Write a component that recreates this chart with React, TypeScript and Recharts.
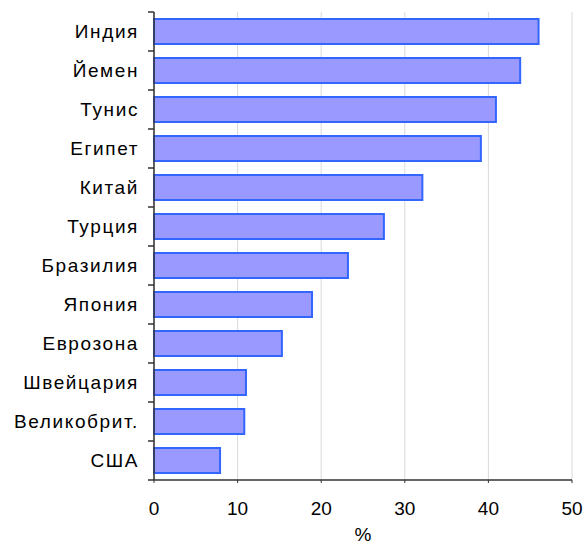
import { BarChart, Bar, XAxis, YAxis, CartesianGrid } from 'recharts';

const countries = [
  'Индия',
  'Йемен',
  'Тунис',
  'Египет',
  'Китай',
  'Турция',
  'Бразилия',
  'Япония',
  'Еврозона',
  'Швейцария',
  'Великобрит.',
  'США',
];
const values = [46.0, 43.8, 40.9, 39.1, 32.1, 27.5, 23.2, 18.9, 15.3, 11.0, 10.8, 7.9];
const xTicks = [0, 10, 20, 30, 40, 50];

const data = countries.map((name, i) => ({ name, value: values[i] }));

const W = 584;
const H = 544;
const AXIS_W = 154;
const TOP = 12;
const XAXIS_H = 64;
const BAND = (H - TOP - XAXIS_H) / countries.length;

const font = '"Liberation Sans", Arial, sans-serif';

// category label plus a tick mark on the band boundary (like the original)
const CountryTick = (props: any) => {
  const { y, payload, index } = props;
  const top = y - BAND / 2;
  return (
    <g>
      <line x1={AXIS_W - 6} x2={AXIS_W} y1={top} y2={top} stroke="#333" strokeWidth={1.5} />
      {index === countries.length - 1 && (
        <line x1={AXIS_W - 6} x2={AXIS_W} y1={top + BAND} y2={top + BAND} stroke="#333" strokeWidth={1.5} />
      )}
      <text
        x={AXIS_W - 15}
        y={y}
        dy="0.36em"
        textAnchor="end"
        fill="#000"
        fontSize={19}
        fontFamily={font}
        letterSpacing={1.6}
      >
        {payload.value}
      </text>
    </g>
  );
};

export default function App() {
  return (
    <div style={{ position: 'absolute', left: 0, top: 0, background: '#fff' }}>
      <BarChart
        width={W}
        height={H}
        data={data}
        layout="vertical"
        margin={{ top: TOP, right: 12, bottom: 0, left: 0 }}
      >
        <CartesianGrid horizontal={false} stroke="#d9d9d9" />
        <XAxis
          type="number"
          domain={[0, 50]}
          ticks={xTicks}
          height={XAXIS_H}
          axisLine={{ stroke: '#333', strokeWidth: 1.5 }}
          tickLine={{ stroke: '#333' }}
          tickSize={3}
          tickMargin={19}
          tick={{ fill: '#000', fontSize: 19, fontFamily: font }}
          label={{
            value: '%',
            position: 'insideBottom',
            offset: 3,
            fill: '#000',
            fontSize: 19,
            fontFamily: font,
          }}
        />
        <XAxis
          xAxisId="top"
          orientation="top"
          type="number"
          domain={[0, 50]}
          height={0}
          tick={false}
          tickLine={false}
          axisLine={{ stroke: '#808080', strokeWidth: 1.5 }}
        />
        <YAxis
          type="category"
          dataKey="name"
          width={AXIS_W}
          axisLine={{ stroke: '#333', strokeWidth: 1.5 }}
          tickLine={false}
          interval={0}
          tick={<CountryTick />}
        />
        <YAxis
          yAxisId="right"
          orientation="right"
          type="number"
          width={0}
          tick={false}
          tickLine={false}
          axisLine={{ stroke: '#808080', strokeWidth: 1.5 }}
        />
        <Bar
          dataKey="value"
          fill="#9999ff"
          stroke="#3366ff"
          strokeWidth={2}
          barSize={25}
          isAnimationActive={false}
        />
      </BarChart>
    </div>
  );
}
